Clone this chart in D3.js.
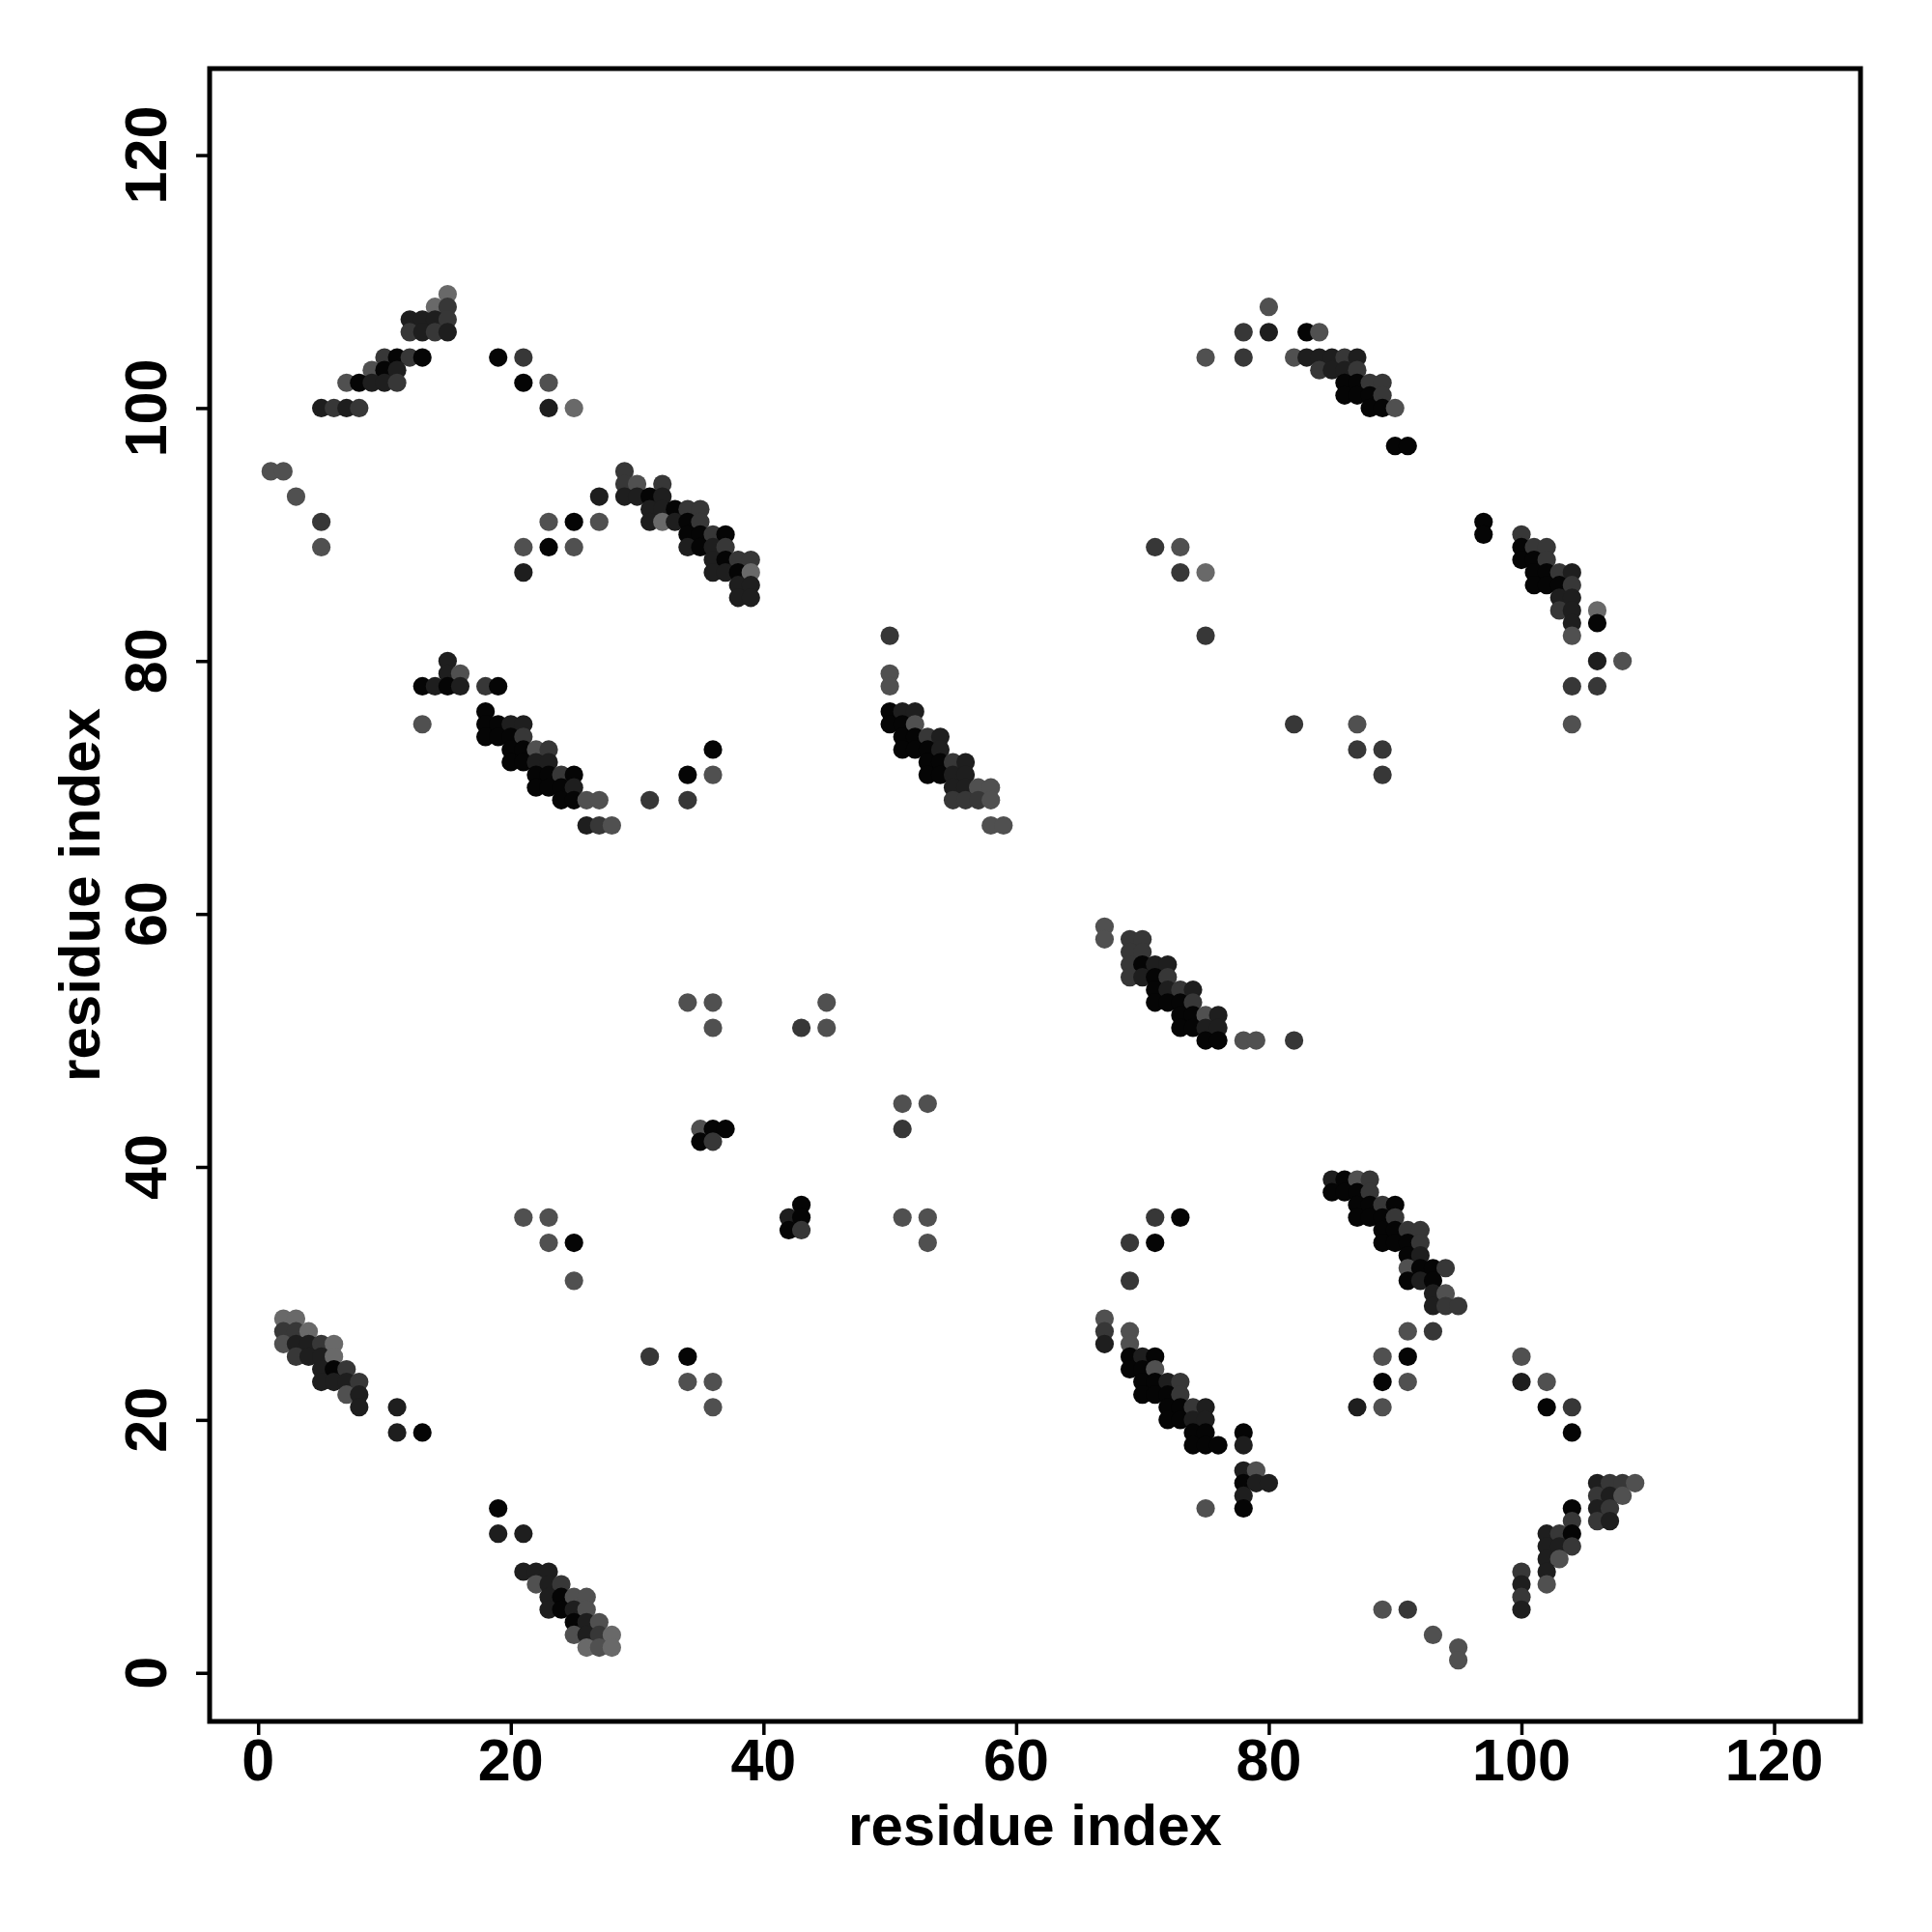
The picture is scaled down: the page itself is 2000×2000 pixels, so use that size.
<!DOCTYPE html>
<html>
<head>
<meta charset="utf-8">
<script src="https://cdn.jsdelivr.net/npm/d3@7"></script>
<style>
  body { margin: 0; background: #fff; }
  text { font-family: "Liberation Sans", Arial, Helvetica, sans-serif; font-weight: bold; }
</style>
</head>
<body>
<svg id="chart" width="2000" height="2000"></svg>
<script>
// contacts as [i, j, shade], shade 0 = black ... 4 = light grey
clusterTopLeft = [
    [15,109,4],[14,108,4],[15,108,2],
    [12,107,1],[13,107,1],[14,107,1],[15,107,2],
    [12,106,2],[13,106,1],[14,106,2],[15,106,1],
    [10,104,2],[11,104,0],[12,104,2],[13,104,0],[19,104,0],[21,104,2],
    [9,103,3],[10,103,0],[11,103,1],
    [7,102,3],[8,102,0],[9,102,1],[10,102,1],[11,102,2],[21,102,0],[23,102,3],
    [5,100,1],[6,100,2],[7,100,1],[8,100,2],[23,100,1],[25,100,4],
    [1,95,3],[2,95,3],[3,93,3],[5,91,2],[5,89,3],
    [27,93,1],[23,91,3],[25,91,0],[27,91,3],[21,89,3],[23,89,0],[25,89,3],[21,87,1]
];
clusterBand1 = [
    [29,95,2],[29,94,2],[30,94,3],[32,94,2],
    [29,93,1],[30,93,1],[31,93,0],[32,93,1],
    [31,92,1],[32,92,1],[33,92,0],[34,92,2],[35,92,2],
    [31,91,1],[32,91,4],[33,91,1],[34,91,0],[35,91,2],
    [34,90,0],[35,90,0],[36,90,2],[37,90,0],
    [34,89,1],[35,89,0],[36,89,1],[37,89,2],
    [36,88,1],[37,88,0],[38,88,2],[39,88,2],
    [36,87,1],[37,87,1],[38,87,0],[39,87,4],
    [38,86,1],[39,86,1],[38,85,1],[39,85,1]
];
clusterBand2 = [
    [15,80,1],[15,79,1],[16,79,3],
    [13,78,0],[14,78,1],[15,78,0],[16,78,1],[18,78,2],[19,78,0],
    [13,75,3],[18,76,0],
    [18,75,0],[19,75,0],[20,75,1],[21,75,1],
    [18,74,0],[19,74,0],[20,74,0],[21,74,2],
    [20,73,0],[21,73,0],[22,73,3],[23,73,2],
    [20,72,0],[21,72,0],[22,72,1],[23,72,1],
    [22,71,0],[23,71,0],[24,71,2],[25,71,0],
    [22,70,0],[23,70,0],[24,70,0],[25,70,1],
    [24,69,0],[25,69,0],[26,69,3],[27,69,3],
    [26,67,1],[27,67,2],[28,67,3],
    [31,69,2],[34,69,2],[34,71,0],[36,71,3],[36,73,0]
];
clusterMiddle = [
    [34,53,3],[36,53,3],[36,51,3],[43,51,2],[45,51,3],[45,53,3],
    [35,43,3],[36,43,0],[37,43,0],[35,42,0],[36,42,2],
    [43,37,0],[42,36,1],[43,36,0],[42,35,0],[43,35,2],
    [51,45,3],[53,45,3],[51,43,2],[51,36,3],[53,36,3],[53,34,3]
];
clusterBand3 = [
    [50,82,2],[50,79,3],[50,78,3],
    [50,76,0],[51,76,1],[52,76,1],
    [50,75,0],[51,75,0],[52,75,3],
    [51,74,0],[52,74,0],[53,74,2],[54,74,1],
    [51,73,0],[52,73,0],[53,73,0],[54,73,1],
    [53,72,0],[54,72,0],[55,72,2],[56,72,1],
    [53,71,0],[54,71,0],[55,71,1],[56,71,1],
    [55,70,1],[56,70,1],[57,70,3],[58,70,3],
    [55,69,2],[56,69,2],[57,69,2],[58,69,3],
    [58,67,3],[59,67,3]
];
clusterBand4 = [
    [67,59,3],[67,58,3],[69,58,2],[70,58,2],[69,57,2],[70,57,2],
    [69,56,2],[70,56,0],[71,56,1],[72,56,1],
    [69,55,2],[70,55,1],[71,55,0],[72,55,2],
    [71,54,0],[72,54,1],[73,54,2],[74,54,1],
    [71,53,0],[72,53,0],[73,53,0],[74,53,2],
    [73,52,0],[74,52,0],[75,52,3],[76,52,1],
    [73,51,0],[74,51,0],[75,51,1],[76,51,1],
    [75,50,0],[76,50,0],[78,50,3],[79,50,3],[82,50,2]
];
clusterTopRight = [
    [80,108,3],[78,106,2],[80,106,1],[83,106,0],[84,106,3],
    [75,104,3],[78,104,2],[82,104,3],[83,104,1],[84,104,1],[85,104,1],[86,104,2],[87,104,1],
    [84,103,2],[85,103,1],[86,103,1],[87,103,2],
    [86,102,0],[87,102,0],[88,102,2],[89,102,2],
    [86,101,0],[87,101,0],[88,101,0],[89,101,2],
    [88,100,0],[89,100,0],[90,100,3],[90,97,0],[91,97,0],
    [71,89,2],[73,89,3],[73,87,2],[75,87,4],[75,82,2],
    [82,75,2],[87,75,3],[87,73,2],[89,73,2],[89,71,2]
];
clusterRight = [
    [97,91,0],[97,90,0],[100,90,2],
    [100,89,0],[101,89,2],[102,89,2],
    [100,88,0],[101,88,0],[102,88,2],
    [101,87,0],[102,87,0],[103,87,2],[104,87,1],
    [101,86,0],[102,86,0],[103,86,0],[104,86,2],
    [103,85,1],[104,85,1],[103,84,2],[104,84,1],[106,84,4],
    [104,83,1],[106,83,0],[104,82,3],
    [106,80,1],[108,80,3],[104,78,2],[106,78,2],[104,75,3]
];
clusterBottomLeft = [
    [2,28,4],[3,28,4],[2,27,2],[3,27,2],[4,27,4],
    [2,26,3],[3,26,1],[4,26,1],[5,26,2],[6,26,4],
    [3,25,2],[4,25,1],[5,25,1],[6,25,4],
    [5,24,1],[6,24,0],[7,24,2],
    [5,23,1],[6,23,1],[7,23,1],[8,23,2],
    [7,22,3],[8,22,1],[8,21,1],[11,21,1],[11,19,1],[13,19,0],
    [31,25,2],[34,25,0],[34,23,3],[36,23,3],[36,21,3],
    [21,36,3],[23,36,3],[23,34,3],[25,34,0],[25,31,3]
];
clusterBottom = [
    [19,13,0],[19,11,1],[21,11,1],
    [21,8,1],[22,8,1],[23,8,1],
    [22,7,3],[23,7,1],[24,7,2],
    [23,6,1],[24,6,0],[25,6,3],[26,6,3],
    [23,5,1],[24,5,0],[25,5,1],[26,5,3],
    [25,4,0],[26,4,1],[27,4,3],
    [25,3,3],[26,3,1],[27,3,2],[28,3,4],
    [26,2,4],[27,2,3],[28,2,4]
];
clusterBand5 = [
    [71,36,2],[73,36,0],[69,34,2],[71,34,0],[69,31,2],
    [67,28,3],[67,27,2],[69,27,3],[67,26,1],[69,26,3],
    [69,25,0],[70,25,1],[71,25,0],
    [69,24,0],[70,24,0],[71,24,3],
    [70,23,0],[71,23,0],[72,23,1],[73,23,2],
    [70,22,0],[71,22,0],[72,22,0],[73,22,2],
    [72,21,0],[73,21,0],[74,21,2],[75,21,1],
    [72,20,0],[73,20,0],[74,20,1],[75,20,1],
    [74,19,0],[75,19,0],[74,18,0],[75,18,0],[76,18,0],
    [78,19,0],[78,18,1],[78,16,1],[79,16,3],
    [78,15,0],[79,15,1],[80,15,1],[78,14,1],[78,13,0],[75,13,3]
];
clusterBand6 = [
    [85,39,1],[86,39,0],[87,39,3],[88,39,2],
    [85,38,0],[86,38,0],[87,38,0],[88,38,2],
    [87,37,0],[88,37,0],[89,37,2],[90,37,0],
    [87,36,0],[88,36,0],[89,36,0],[90,36,2],
    [89,35,0],[90,35,0],[91,35,2],[92,35,2],
    [89,34,0],[90,34,0],[91,34,0],[92,34,2],
    [91,33,0],[92,33,1],
    [91,32,3],[92,32,0],[93,32,0],[94,32,2],
    [91,31,0],[92,31,1],[93,31,0],
    [93,30,1],[94,30,3],[93,29,1],[94,29,2],[95,29,2],
    [91,27,3],[93,27,2],[89,25,3],[91,25,0],[89,23,0],[91,23,3],[87,21,1],[89,21,3],
    [100,25,3],[100,23,1],[102,23,3],[102,21,0],[104,21,2],[104,19,0]
];
clusterBottomRight = [
    [106,15,1],[107,15,2],[108,15,2],[109,15,3],
    [106,14,2],[107,14,1],[108,14,3],
    [104,13,0],[106,13,1],[107,13,2],
    [104,12,2],[106,12,2],[107,12,1],
    [102,11,1],[103,11,2],[104,11,0],
    [102,10,1],[103,10,1],[104,10,2],
    [102,9,1],[103,9,3],[100,8,2],[102,8,1],[100,7,1],[102,7,3],[100,6,2],[100,5,1],
    [89,5,3],[91,5,2],[93,3,3],[95,2,3],[95,1,3]
];

xTicks = [0, 20, 40, 60, 80, 100, 120];
yTicks = [0, 20, 40, 60, 80, 100, 120];
axisTitle = "residue index";

contacts = [].concat(clusterTopLeft, clusterBand1, clusterBand2, clusterMiddle,
    clusterBand3, clusterBand4, clusterTopRight, clusterRight,
    clusterBottomLeft, clusterBottom, clusterBand5, clusterBand6, clusterBottomRight);

svg = d3.select('#chart');
svg.append('rect').attr('width', 2000).attr('height', 2000).attr('fill', '#fff');

box = {left: 217, right: 1926, top: 71, bottom: 1782};

// R style 4% padding around 1..122
xScale = d3.scaleLinear().domain([-3.84, 126.84]).range([box.left, box.right]);
yScale = d3.scaleLinear().domain([-3.84, 126.84]).range([box.bottom, box.top]);

grey = d3.scaleLinear().domain([0, 4]).range(['#050505', '#696969']);

svg.append('g')
    .selectAll('circle')
    .data(contacts)
    .enter()
    .append('circle')
    .attr('cx', (d) => xScale(d[0]))
    .attr('cy', (d) => yScale(d[1]))
    .attr('r', 9.6)
    .attr('fill', (d) => grey(d[2]));

// axes
xAxis = svg.append('g')
    .attr('transform', `translate(0, ${box.bottom})`)
    .call(d3.axisBottom(xScale).tickValues(xTicks).tickSize(14).tickPadding(0).tickFormat(''));
yAxis = svg.append('g')
    .attr('transform', `translate(${box.left}, 0)`)
    .call(d3.axisLeft(yScale).tickValues(yTicks).tickSize(14).tickPadding(0).tickFormat(''));
svg.selectAll('.domain').remove();
svg.selectAll('.tick line').attr('stroke', '#000').attr('stroke-width', 3.5);

svg.append('g')
    .selectAll('text')
    .data(xTicks)
    .enter()
    .append('text')
    .attr('x', (d) => xScale(d))
    .attr('y', 1843)
    .attr('text-anchor', 'middle')
    .attr('font-size', 61)
    .text((d) => d);

svg.append('g')
    .selectAll('text')
    .data(yTicks)
    .enter()
    .append('text')
    .attr('transform', (d) => `translate(172, ${yScale(d)}) rotate(-90)`)
    .attr('text-anchor', 'middle')
    .attr('font-size', 61)
    .text((d) => d);

// box
svg.append('rect')
    .attr('x', box.left)
    .attr('y', box.top)
    .attr('width', box.right - box.left)
    .attr('height', box.bottom - box.top)
    .attr('fill', 'none')
    .attr('stroke', '#000')
    .attr('stroke-width', 5);

svg.append('text')
    .attr('x', (box.left + box.right) / 2)
    .attr('y', 1910)
    .attr('text-anchor', 'middle')
    .attr('font-size', 60)
    .text(axisTitle);

svg.append('text')
    .attr('transform', `translate(103, ${(box.top + box.bottom) / 2}) rotate(-90)`)
    .attr('text-anchor', 'middle')
    .attr('font-size', 60)
    .text(axisTitle);
</script>
</body>
</html>
